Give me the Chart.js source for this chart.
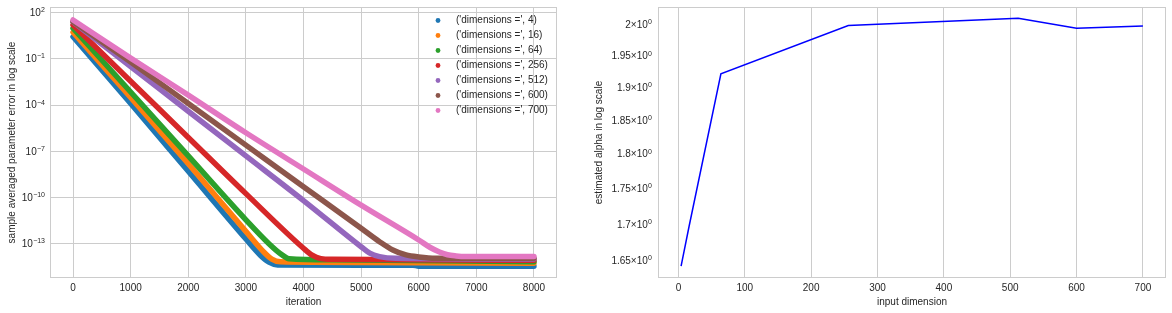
<!DOCTYPE html>
<html>
<head>
<meta charset="utf-8">
<script src="https://cdn.jsdelivr.net/npm/chart.js"></script>
<style>
body{margin:0;background:#fff;width:1172px;height:313px;overflow:hidden;position:relative}
#left{position:absolute;left:0;top:0}
#right{position:absolute;left:575px;top:0}
</style>
</head>
<body>
<canvas id="left" width="575" height="313" style="width:575px;height:313px"></canvas>
<canvas id="right" width="597" height="313" style="width:597px;height:313px"></canvas>
<script>
// left plot: log10 of the averaged error
const dims = [4, 16, 64, 256, 512, 600, 700]
const iters4 = [0, 1000, 2000, 3000, 3250, 3400, 3550, 5900, 6000, 8000]
const err4 = [0.44, -3.9, -8.3, -12.7, -13.75, -14.2, -14.38, -14.4, -14.46, -14.46]
const iters16 = [0, 1000, 2000, 3000, 3300, 3450, 3600, 5000, 8000]
const err16 = [0.73, -3.5, -7.8, -12.2, -13.5, -14.0, -14.18, -14.22, -14.27]
const iters64 = [0, 1000, 2000, 3000, 3400, 3600, 3750, 4500, 8000]
const err64 = [0.99, -3.15, -7.3, -11.45, -13.0, -13.65, -13.98, -14.05, -14.18]
const iters256 = [0, 1000, 2000, 3000, 4000, 4150, 4300, 4500, 8000]
const err256 = [1.2, -2.45, -6.1, -9.75, -13.3, -13.75, -13.97, -14.02, -14.08]
const iters512 = [0, 1000, 2000, 3000, 4000, 5000, 5150, 5320, 5600, 8000]
const err512 = [1.4, -1.5, -4.4, -7.3, -10.2, -13.2, -13.62, -13.84, -13.95, -14.0]
const iters600 = [0, 1000, 2000, 3000, 4000, 5000, 5320, 5550, 5780, 6000, 6300, 8000]
const err600 = [1.42, -1.2, -3.9, -6.6, -9.3, -12.0, -12.87, -13.41, -13.73, -13.86, -13.94, -13.94]
const iters700 = [0, 1000, 2000, 3000, 4000, 5000, 6000, 6200, 6360, 6500, 6650, 6800, 8000]
const err700 = [1.53, -0.95, -3.35, -5.8, -8.15, -10.5, -12.76, -13.25, -13.54, -13.72, -13.8, -13.84, -13.84]
const errTicks = [1e2, 1e-1, 1e-4, 1e-7, 1e-10, 1e-13]
const errTickExps = ['2', '−1', '−4', '−7', '−10', '−13']
const iterTicks = [0, 1000, 2000, 3000, 4000, 5000, 6000, 7000, 8000]

// right plot
const inputDim = [4, 16, 64, 256, 512, 600, 700]
const alphaEst = [1.643, 1.697, 1.922, 1.999, 2.011, 1.9946, 1.9984]
const alphaTicks = [1.65, 1.7, 1.75, 1.8, 1.85, 1.9, 1.95, 2.0]
const alphaTickBases = ['1.65×10', '1.7×10', '1.75×10', '1.8×10', '1.85×10', '1.9×10', '1.95×10', '2×10']
const dimTicks = [0, 100, 200, 300, 400, 500, 600, 700]

const colors = ['#1f77b4', '#ff7f0e', '#2ca02c', '#d62728', '#9467bd', '#8c564b', '#e377c2']
const allIters = [iters4, iters16, iters64, iters256, iters512, iters600, iters700]
const allErr = [err4, err16, err64, err256, err512, err600, err700]

const FONT = '"Liberation Sans", Arial, sans-serif'
Chart.defaults.font.family = FONT
Chart.defaults.font.size = 10
Chart.defaults.color = '#262626'

let edgeBox = {
  id: 'edgeBox',
  beforeDatasetsDraw(chart) {
    let a = chart.chartArea, ctx = chart.ctx
    ctx.save()
    ctx.strokeStyle = '#cccccc'
    ctx.lineWidth = 1
    ctx.strokeRect(Math.round(a.left) + 0.5, Math.round(a.top) + 0.5, Math.round(a.right - a.left) - 1, Math.round(a.bottom - a.top) - 1)
    ctx.restore()
  }
}

// y tick labels with a raised exponent, placed by the y scale
let powLabels = {
  id: 'powLabels',
  afterDraw(chart, args, opts) {
    let sc = chart.scales.y, ctx = chart.ctx
    let right = chart.chartArea.left - opts.gap
    ctx.save()
    ctx.fillStyle = '#262626'
    opts.values.forEach((v, i) => {
      let y = sc.getPixelForValue(v)
      ctx.font = '7px ' + FONT
      let ew = ctx.measureText(opts.exps[i]).width
      ctx.textAlign = 'left'
      ctx.textBaseline = 'alphabetic'
      ctx.fillText(opts.exps[i], right - ew, y - 0.5)
      ctx.font = '10px ' + FONT
      ctx.textAlign = 'right'
      ctx.textBaseline = 'middle'
      ctx.fillText(opts.bases[i], right - ew - 0.3, y + 0.5)
    })
    ctx.restore()
  }
}

let dimLegend = {
  id: 'dimLegend',
  afterDraw(chart) {
    let ctx = chart.ctx, r = chart.chartArea.right
    ctx.save()
    ctx.font = '10px ' + FONT
    ctx.textBaseline = 'middle'
    chart.data.datasets.forEach((ds, i) => {
      let y = 20.5 + i * 15
      ctx.fillStyle = ds.borderColor
      ctx.beginPath()
      ctx.arc(r - 119, y, 2.4, 0, Math.PI * 2)
      ctx.fill()
      ctx.fillStyle = '#262626'
      ctx.fillText(ds.label, r - 101, y)
    })
    ctx.restore()
  }
}

function fixTicks(values) {
  return scale => { scale.ticks = values.map(v => ({ value: v })) }
}

let leftSets = dims.map((d, i) => ({
  label: "('dimensions =', " + d + ")",
  data: allIters[i].map((x, j) => ({ x: x, y: Math.pow(10, allErr[i][j]) })),
  showLine: true,
  cubicInterpolationMode: 'monotone',
  borderColor: colors[i],
  backgroundColor: colors[i],
  borderWidth: 5.5,
  borderCapStyle: 'round',
  borderJoinStyle: 'round',
  pointRadius: 0,
  order: dims.length - i
}))

new Chart(document.getElementById('left'), {
  type: 'scatter',
  data: { datasets: leftSets },
  options: {
    responsive: false,
    animation: false,
    layout: { padding: { top: 7, right: 18, left: 0, bottom: 0 } },
    plugins: {
      legend: { display: false },
      tooltip: { enabled: false },
      powLabels: { values: errTicks, bases: errTicks.map(() => '10'), exps: errTickExps, gap: 5 }
    },
    scales: {
      x: {
        type: 'linear', min: -400, max: 8400,
        afterBuildTicks: fixTicks(iterTicks),
        afterFit: s => { s.height = 35 },
        grid: { color: '#cccccc', drawTicks: false },
        border: { display: false },
        ticks: { padding: 4, autoSkip: false, maxRotation: 0, callback: v => String(v) },
        title: { display: true, text: 'iteration', padding: { top: 0, bottom: 5 } }
      },
      y: {
        type: 'logarithmic', min: Math.pow(10, -15.23), max: Math.pow(10, 2.37),
        afterBuildTicks: fixTicks(errTicks),
        afterFit: s => { s.width = 50 },
        grid: { color: '#cccccc', drawTicks: false },
        border: { display: false },
        ticks: { display: false, autoSkip: false },
        title: { display: true, text: 'sample averaged parameter error in log scale', padding: { top: 6, bottom: 0 } }
      }
    }
  },
  plugins: [edgeBox, powLabels, dimLegend]
})

new Chart(document.getElementById('right'), {
  type: 'line',
  data: {
    datasets: [{
      data: inputDim.map((x, i) => ({ x: x, y: alphaEst[i] })),
      borderColor: '#0000ff',
      borderWidth: 1.5,
      pointRadius: 0,
      fill: false
    }]
  },
  options: {
    responsive: false,
    animation: false,
    layout: { padding: { top: 7, right: 6, left: 0, bottom: 0 } },
    plugins: {
      legend: { display: false },
      tooltip: { enabled: false },
      powLabels: { values: alphaTicks, bases: alphaTickBases, exps: alphaTicks.map(() => '0'), gap: 6 }
    },
    scales: {
      x: {
        type: 'linear', min: -30.8, max: 734.8,
        afterBuildTicks: fixTicks(dimTicks),
        afterFit: s => { s.height = 35 },
        grid: { color: '#cccccc', drawTicks: false },
        border: { display: false },
        ticks: { padding: 4, autoSkip: false, maxRotation: 0, callback: v => String(v) },
        title: { display: true, text: 'input dimension', padding: { top: 0, bottom: 5 } }
      },
      y: {
        type: 'logarithmic', min: 1.6272, max: 2.0295,
        afterBuildTicks: fixTicks(alphaTicks),
        afterFit: s => { s.width = 83 },
        grid: { display: false },
        border: { display: false },
        ticks: { display: false, autoSkip: false },
        title: { display: true, text: 'estimated alpha in log scale', padding: { top: 18, bottom: 0 } }
      }
    }
  },
  plugins: [edgeBox, powLabels]
})
</script>
</body>
</html>
